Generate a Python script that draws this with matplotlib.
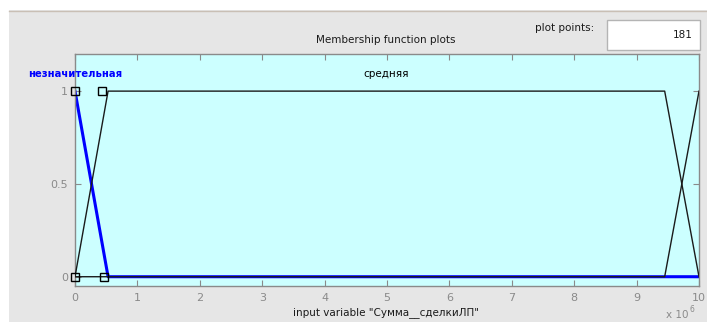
import matplotlib
matplotlib.use("Agg")
import matplotlib.pyplot as plt
from matplotlib.patches import Rectangle
import numpy as np

# Universe of discourse and membership functions (trapezoids: a, b, c, d)
x_range = [0, 1e7]
mf_names = ["незначительная", "средняя", "большая"]
mf_params = [
    [-1e6, -0.5e6, 0.0, 0.53e6],
    [0.0, 0.53e6, 9.45e6, 1e7],
    [9.45e6, 1e7, 1.05e7, 1.1e7],
]
selected = 0
# Editing handles of the selected function
handle_x = [0.0, 0.43e6, 0.0, 0.47e6]
handle_y = [1, 1, 0, 0]
x_ticks = [0, 1e6, 2e6, 3e6, 4e6, 5e6, 6e6, 7e6, 8e6, 9e6, 1e7]
x_tick_labels = ["0", "1", "2", "3", "4", "5", "6", "7", "8", "9", "10"]
y_ticks = [0, 0.5, 1]
y_tick_labels = ["0", "0.5", "1"]
plot_points = 181
var_name = "Сумма__сделкиЛП"

W, H = 707, 322
fig = plt.figure(figsize=(W / 100, H / 100), dpi=100)
fig.patch.set_facecolor("#e6e6e6")

# Window frame: white strip at top and left
fig.add_artist(Rectangle((0, 1 - 10 / H), 1, 10 / H, transform=fig.transFigure,
                         facecolor="white", edgecolor="none", zorder=0))
fig.add_artist(Rectangle((0, 0), 9 / W, 1, transform=fig.transFigure,
                         facecolor="white", edgecolor="none", zorder=0))
fig.add_artist(plt.Line2D([9 / W, 1], [1 - 10.5 / H, 1 - 10.5 / H],
                          transform=fig.transFigure, color="#c9bfb5", lw=1))

ax = fig.add_axes([75 / W, 36 / H, 624 / W, 232 / H])
ax.set_facecolor("#ccffff")
ax.set_xlim(x_range)
ax.set_ylim(-0.05, 1.2)

xx = np.linspace(x_range[0], x_range[1], 2001)
for i, p in enumerate(mf_params):
    yy = np.interp(xx, p, [0, 1, 1, 0], left=0, right=0)
    if i == selected:
        ax.plot(xx, yy, color="#0000ff", lw=2.2, zorder=2)
    else:
        ax.plot(xx, yy, color="#1a1a1a", lw=1.0, zorder=3)

ax.plot(handle_x, handle_y, linestyle="none", marker="s", markersize=5.5,
        markerfacecolor="none", markeredgecolor="black", markeredgewidth=1.0,
        zorder=4, clip_on=False)

# Labels of the functions above their peaks (only those inside the range)
for i, p in enumerate(mf_params):
    centre = (max(p[1], x_range[0]) + min(p[2], x_range[1])) / 2
    if p[1] >= x_range[1]:
        continue
    if i == selected:
        ax.text(x_range[0], 1.09, mf_names[i], color="#0000ff", fontweight="bold",
                fontsize=7.2, ha="center", va="center")
    else:
        ax.text(centre, 1.09, mf_names[i], color="black", fontsize=7.5,
                ha="center", va="center")

ax.set_xticks(x_ticks)
ax.set_xticklabels(x_tick_labels)
ax.set_yticks(y_ticks)
ax.set_yticklabels(y_tick_labels)
ax.tick_params(direction="in", length=4, top=True, right=True, labelsize=8,
               labelcolor="#8a8a8a", color="#8a8a8a", pad=5)
for s in ax.spines.values():
    s.set_color("#8a8a8a")
    s.set_linewidth(1)

fig.text(386 / W, 1 - 40 / H, "Membership function plots", fontsize=7.5,
         ha="center", va="center", color="#1a1a1a")
fig.text(386 / W, 1 - 313 / H, 'input variable "%s"' % var_name, fontsize=7.5,
         ha="center", va="center", color="#1a1a1a")
fig.text(688 / W, 1 - 315 / H, "x 10", fontsize=7.5, ha="right", va="center",
         color="#8a8a8a")
fig.text(690 / W, 1 - 309 / H, "6", fontsize=5.5, ha="left", va="center",
         color="#8a8a8a")

# Plot-points field
fig.text(594 / W, 1 - 28 / H, "plot points:", fontsize=7.5, ha="right",
         va="center", color="#1a1a1a")
fig.add_artist(Rectangle((607 / W, 1 - 50 / H), 93 / W, 30 / H,
                         transform=fig.transFigure, facecolor="white",
                         edgecolor="#b4b4b4", lw=1))
fig.text(693 / W, 1 - 35 / H, str(plot_points), fontsize=7.5, ha="right",
         va="center", color="#1a1a1a")

fig.savefig("out.png", dpi=100, facecolor=fig.get_facecolor())
